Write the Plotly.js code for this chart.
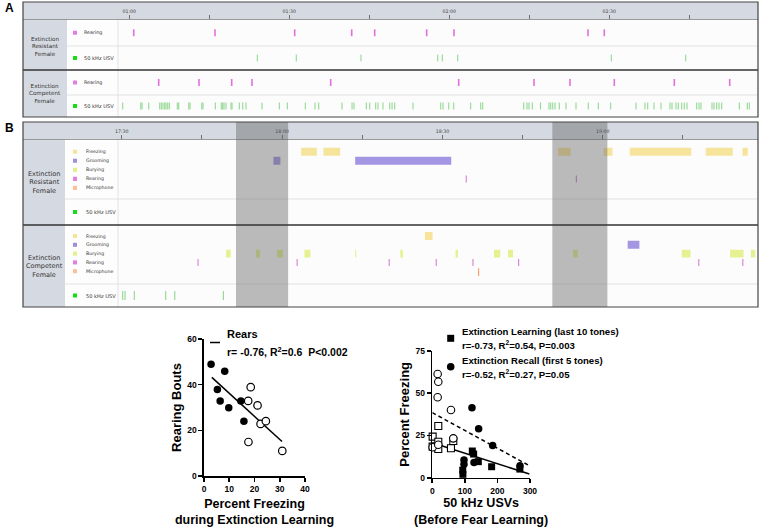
<!DOCTYPE html>
<html><head><meta charset="utf-8">
<script src="https://cdn.plot.ly/plotly-3.0.1.min.js"></script>
<style>html,body{margin:0;padding:0;background:#fff}#chart{width:760px;height:527px}</style>
</head><body><div id="chart"></div>
<script>
// ---------------- DATA ----------------
// Panel A (time in seconds)
const aTickVals = [60, 90, 120, 150];
const aTickText = ['01:00', '01:30', '02:00', '02:30'];
const aMinorVals = [75, 105, 135, 165];
const aResRearing = [60.83, 76.07, 91.01, 101.70, 106.01, 115.76, 120.88, 146.01, 149.06];
const aResUSV = [84.00, 91.31, 103.44, 117.83, 118.69, 121.58, 150.38, 164.33];
const aCompRearing = [65.51, 73.07, 79.20, 83.01, 97.76, 121.76, 135.88, 142.63, 150.94, 162.19, 172.58];
const aCompUSV = [58.76, 62.14, 62.38, 63.64, 65.70, 66.00, 66.32, 66.64, 66.88, 67.20, 67.50, 69.00, 69.26,
  71.14, 71.38, 73.58, 73.82, 76.13, 77.25, 77.51, 77.76, 78.13, 79.07, 79.26, 80.63, 81.26, 81.88, 84.88,
  88.13, 89.63, 93.00, 94.82, 95.51, 99.88, 101.76, 102.13, 104.44, 105.08, 106.20, 106.63, 107.57, 108.83,
  109.26, 109.76, 113.19, 118.39, 118.82, 119.89, 120.83, 124.01, 125.89, 126.26, 133.95, 134.57, 134.94,
  135.56, 137.10, 138.69, 139.01, 139.39, 139.82, 140.63, 141.88, 143.76, 146.06, 147.94, 150.26, 155.01,
  156.69, 157.20, 158.38, 159.69, 161.38, 161.76, 162.51, 162.94, 163.58, 164.06, 164.57, 166.39, 166.82,
  167.19, 169.26, 169.63, 170.14, 170.57, 171.08, 174.38, 175.88, 176.25];

// Panel B (time in seconds)
const bTickVals = [1050, 1080, 1110, 1140];
const bTickText = ['17:30', '18:00', '18:30', '19:00'];
const bMinorVals = [1065, 1095, 1125, 1155];
const lanes = ['Freezing', 'Grooming', 'Burying', 'Rearing', 'Microphone'];
const toneStart = [1071.37, 1130.56];
const toneEnd = [1081.12, 1140.86];
const bResFreezeStart = [1083.56, 1087.73, 1131.63, 1140.17, 1145.04, 1159.27, 1166.14];
const bResFreezeEnd = [1086.50, 1090.86, 1133.99, 1141.80, 1156.54, 1164.33, 1167.13];
const bResGroomStart = [1078.37, 1093.67];
const bResGroomEnd = [1079.68, 1111.65];
const bResRearing = [1114.46, 1135.06];
const bResUSV = [];
const bCompFreezeStart = [1106.72];
const bCompFreezeEnd = [1108.15];
const bCompGroomStart = [1144.66];
const bCompGroomEnd = [1146.85];
const bCompBuryStart = [1069.51, 1075.13, 1079.01, 1084.18, 1093.67, 1102.10, 1112.45, 1119.64, 1122.27, 1134.44, 1154.79, 1163.82, 1167.70];
const bCompBuryEnd = [1070.39, 1075.88, 1080.13, 1085.30, 1093.86, 1102.60, 1112.90, 1120.82, 1123.20, 1135.30, 1156.42, 1166.35, 1168.52];
const bCompRearing = [1064.27, 1082.81, 1100.04, 1108.84, 1115.71, 1124.25, 1157.96, 1166.20];
const bCompMic = [1116.76];
const bCompUSV = [1050.17, 1050.60, 1052.34, 1058.22, 1059.91, 1069.01];

// Bottom left scatter: percent freezing vs rearing bouts
const rearCompX = [2.8, 8.2, 5.3, 6.4, 9.8, 14.6, 15.8];
const rearCompY = [48.9, 45.9, 37.9, 32.9, 29.9, 32.9, 24.0];
const rearResX = [18.5, 17.5, 21.2, 22.4, 24.5, 17.6, 31.0];
const rearResY = [38.9, 32.9, 30.9, 22.8, 24.0, 14.9, 11.0];
const rearFitX = [3.1, 30.9];
const rearFitY = [43.2, 15.1];

// Bottom right scatter: USVs vs percent freezing
const learnResX = [18.4, 1, 18.4, 1, 18.4, 57.3, 64.5];
const learnResY = [30.6, 24.3, 21.3, 18.4, 17.0, 17.4, 21.7];
const recallResX = [16.4, 18.4, 16.4, 57.3, 64.5, 1, 18.4];
const recallResY = [61.4, 56.8, 47.6, 40.1, 23.3, 18.0, 19.5];
const learnCompX = [122.9, 127.0, 141.3, 182.2, 269.0, 93.5, 94.0];
const learnCompY = [15.8, 14.0, 9.5, 6.5, 5.1, 4.5, 2.0];
const recallCompX = [121.8, 142.3, 185.3, 269.3, 97.3, 97.3, 128.0];
const recallCompY = [41.4, 29.0, 19.1, 7.1, 10.5, 8.0, 9.0];
const learnFitX = [0, 298];
const learnFitY = [20.7, 2.2];
const recallFitX = [0, 298];
const recallFitY = [38.5, 7.1];

// ---------------- HELPERS ----------------
const W = 760, H = 527;
const px = v => v / W;
const py = v => 1 - v / H;
const TL = "DejaVu Sans, Verdana, sans-serif";
const AR = "Liberation Sans, Arial, sans-serif";

const C = {
  rear: '#e070e0', usv: '#93d993', freeze: '#f6e49c', groom: '#a596e4',
  bury: '#e6f192', mic: '#f4a26a', rearB: '#da88da', usvB: '#8fd68f',
  legRear: '#e47ee4', legUSV: '#16dd16', legFreeze: '#f7e394', legGroom: '#a18fdc',
  legBury: '#e5f08d', legMic: '#f9c09a', head: '#d5d9e1'
};

function ticks(xs, xa, ya, yval, color, size, width) {
  return {type: 'scatter', mode: 'markers', x: xs, y: xs.map(() => yval), xaxis: xa, yaxis: ya,
    marker: {symbol: 'line-ns-open', size: size, color: color, line: {width: width, color: color}},
    hoverinfo: 'skip', showlegend: false};
}
function bars(starts, ends, laneName, color, ya) {
  const li = lanes.indexOf(laneName);
  return {type: 'bar', orientation: 'h', base: starts, x: ends.map((e, i) => e - starts[i]),
    y: starts.map(() => li), width: 0.9, xaxis: 'x2', yaxis: ya,
    marker: {color: color, line: {width: 0}}, hoverinfo: 'skip', showlegend: false};
}

const traces = [
  // Panel A
  ticks(aResRearing, 'x', 'y', 0.5, C.rear, 5, 1.6),
  ticks(aResUSV, 'x', 'y2', 0.5, C.usv, 5, 1.1),
  ticks(aCompRearing, 'x', 'y3', 0.5, C.rear, 5, 1.6),
  ticks(aCompUSV, 'x', 'y4', 0.5, C.usv, 5, 1.1),
  // Panel B resistant
  bars(bResFreezeStart, bResFreezeEnd, 'Freezing', C.freeze, 'y5'),
  bars(bResGroomStart, bResGroomEnd, 'Grooming', C.groom, 'y5'),
  ticks(bResRearing, 'x2', 'y5', lanes.indexOf('Rearing'), C.rearB, 5, 1.2),
  ticks(bResUSV, 'x2', 'y6', 0.5, C.usvB, 6.5, 1.1),
  // Panel B competent
  bars(bCompFreezeStart, bCompFreezeEnd, 'Freezing', C.freeze, 'y7'),
  bars(bCompGroomStart, bCompGroomEnd, 'Grooming', C.groom, 'y7'),
  bars(bCompBuryStart, bCompBuryEnd, 'Burying', C.bury, 'y7'),
  ticks(bCompRearing, 'x2', 'y7', lanes.indexOf('Rearing'), C.rearB, 5, 1.2),
  ticks(bCompMic, 'x2', 'y7', lanes.indexOf('Microphone') + 0.1, C.mic, 5.6, 1.2),
  ticks(bCompUSV, 'x2', 'y8', 0.5, C.usvB, 6.5, 1.1),
  // Bottom left
  {type: 'scatter', mode: 'lines', x: rearFitX, y: rearFitY, xaxis: 'x3', yaxis: 'y9',
    line: {color: '#000', width: 1.5}, hoverinfo: 'skip', showlegend: false},
  {type: 'scatter', mode: 'markers', x: rearCompX, y: rearCompY, xaxis: 'x3', yaxis: 'y9', cliponaxis: false,
    marker: {symbol: 'circle', size: 7.5, color: '#000', line: {width: 0}}, showlegend: false},
  {type: 'scatter', mode: 'markers', x: rearResX, y: rearResY, xaxis: 'x3', yaxis: 'y9', cliponaxis: false,
    marker: {symbol: 'circle', size: 7.5, color: '#fff', line: {width: 1.2, color: '#000'}}, showlegend: false},
  // Bottom right
  {type: 'scatter', mode: 'lines', x: learnFitX, y: learnFitY, xaxis: 'x4', yaxis: 'y10',
    line: {color: '#000', width: 1.5}, hoverinfo: 'skip', showlegend: false},
  {type: 'scatter', mode: 'lines', x: recallFitX, y: recallFitY, xaxis: 'x4', yaxis: 'y10',
    line: {color: '#000', width: 1.5, dash: '4px,3px'}, hoverinfo: 'skip', showlegend: false},
  {type: 'scatter', mode: 'markers', x: learnResX, y: learnResY, xaxis: 'x4', yaxis: 'y10', cliponaxis: false,
    marker: {symbol: 'square', size: 7, color: '#fff', line: {width: 1.1, color: '#000'}}, showlegend: false},
  {type: 'scatter', mode: 'markers', x: recallResX, y: recallResY, xaxis: 'x4', yaxis: 'y10', cliponaxis: false,
    marker: {symbol: 'circle', size: 7.5, color: '#fff', line: {width: 1.1, color: '#000'}}, showlegend: false},
  {type: 'scatter', mode: 'markers', x: learnCompX, y: learnCompY, xaxis: 'x4', yaxis: 'y10', cliponaxis: false,
    marker: {symbol: 'square', size: 7, color: '#000', line: {width: 0}}, showlegend: false},
  {type: 'scatter', mode: 'markers', x: recallCompX, y: recallCompY, xaxis: 'x4', yaxis: 'y10', cliponaxis: false,
    marker: {symbol: 'circle', size: 7.5, color: '#000', line: {width: 0}}, showlegend: false}
];

// ---------------- LAYOUT ----------------
const shapes = [];
const annotations = [];
function rect(x0, y0, x1, y1, fill, lc, lw, layer) {
  shapes.push({type: 'rect', xref: 'paper', yref: 'paper', x0: px(x0), x1: px(x1), y0: py(y1), y1: py(y0),
    fillcolor: fill || 'rgba(0,0,0,0)', line: {color: lc || 'rgba(0,0,0,0)', width: lw || 0}, layer: layer || 'below'});
}
function hline(x0, x1, y, lc, lw, layer) {
  shapes.push({type: 'line', xref: 'paper', yref: 'paper', x0: px(x0), x1: px(x1), y0: py(y), y1: py(y),
    line: {color: lc, width: lw}, layer: layer || 'below'});
}
function vline(x, y0, y1, lc, lw, layer) {
  shapes.push({type: 'line', xref: 'paper', yref: 'paper', x0: px(x), x1: px(x), y0: py(y0), y1: py(y1),
    line: {color: lc, width: lw}, layer: layer || 'below'});
}
function txt(x, y, text, size, opts) {
  annotations.push(Object.assign({xref: 'paper', yref: 'paper', x: px(x), y: py(y), text: text, showarrow: false,
    font: {family: TL, size: size, color: '#333'}, xanchor: 'center', yanchor: 'middle'}, opts || {}));
}
function legendItem(yref, yv, half, text, color, xSq, xTxt, size) {
  shapes.push({type: 'rect', xref: 'paper', yref: yref, x0: px(xSq), x1: px(xSq + 4), y0: yv - half, y1: yv + half,
    fillcolor: color, line: {width: 0}, layer: 'below'});
  annotations.push({xref: 'paper', yref: yref, x: px(xTxt), y: yv, text: text, showarrow: false,
    xanchor: 'left', yanchor: 'middle', font: {family: TL, size: size, color: '#333'}});
}

// Panel A frame
rect(23, 2, 758, 117, '#fcfcfc');
rect(23, 2, 758, 19.5, C.head);
rect(23, 19.5, 67, 117, C.head);
rect(67, 19.5, 118, 117, '#fdfdfd');
hline(67, 758, 46, '#dcdcdc', 0.8);
hline(67, 758, 95, '#dcdcdc', 0.8);
vline(118, 19.5, 117, '#dcdcdc', 0.8);
hline(23, 758, 19.5, '#777', 0.7);
// Panel B frame
rect(23, 122, 758, 307, '#fcfcfc');
rect(23, 122, 758, 139.5, C.head);
rect(23, 139.5, 65, 307, C.head);
rect(65, 139.5, 118, 307, '#fdfdfd');
hline(65, 758, 199, '#dcdcdc', 0.8);
hline(65, 758, 284, '#dcdcdc', 0.8);
vline(118, 139.5, 307, '#dcdcdc', 0.8);
hline(23, 758, 139.5, '#777', 0.7);

// Legend items
legendItem('y', 0.5, 2 / 26, 'Rearing', C.legRear, 73, 82, 4.8);
legendItem('y2', 0.5, 2 / 24, '50 kHz USV', C.legUSV, 73, 82, 5.1);
legendItem('y3', 0.5, 2 / 25, 'Rearing', C.legRear, 73, 82, 4.8);
legendItem('y4', 0.5, 2 / 22, '50 kHz USV', C.legUSV, 73, 82, 5.1);
const legCols = [C.legFreeze, C.legGroom, C.legBury, C.legRear, C.legMic];
lanes.forEach((ln, i) => {
  legendItem('y5', i, 0.23, ln, legCols[i], 73, 83.5, 4.7);
  legendItem('y7', i, 0.23, ln, legCols[i], 73, 83.5, 4.7);
});
legendItem('y6', 0.5, 2 / 26, '50 kHz USV', C.legUSV, 73, 83.5, 5.1);
legendItem('y8', 0.5, 2 / 23, '50 kHz USV', C.legUSV, 73, 83.5, 5.1);

// Tone shading (above events)
toneStart.forEach((s, i) => {
  shapes.push({type: 'rect', xref: 'x2', yref: 'paper', x0: s, x1: toneEnd[i], y0: py(307), y1: py(122),
    fillcolor: 'rgba(95,95,95,0.42)', line: {width: 0}, layer: 'above'});
});
// Separators and borders above
hline(23, 758, 70, '#333', 1.3, 'above');
hline(23, 758, 225, '#333', 1.3, 'above');
rect(23, 2, 758, 117, null, '#444', 1.2, 'above');
rect(23, 122, 758, 307, null, '#444', 1.2, 'above');

// Row labels
txt(45, 46, 'Extinction<br>Resistant<br>Female', 5.6);
txt(45, 94, 'Extinction<br>Competent<br>Female', 5.6);
txt(44, 182, 'Extinction<br>Resistant<br>Female', 6.5);
txt(44, 266, 'Extinction<br>Competent<br>Female', 6.5);
// Panel letters
txt(9, 8, '<b>A</b>', 12, {font: {family: AR, size: 12, color: '#000'}});
txt(9, 128, '<b>B</b>', 12, {font: {family: AR, size: 12, color: '#000'}});

// Scatter legends
hline(210, 220, 342.5, '#000', 1.5, 'above');
txt(225, 334, '<b>Rears</b>', 11, {xanchor: 'left', font: {family: AR, size: 11, color: '#000'}});
txt(225, 351, '<b>r= -0.76, R<sup>2</sup>=0.6&nbsp;&nbsp;P&lt;0.002</b>', 10.5, {xanchor: 'left', font: {family: AR, size: 10.5, color: '#000'}});
rect(447.2, 334.8, 454.2, 341.8, '#000', null, 0, 'above');
shapes.push({type: 'circle', xref: 'paper', yref: 'paper', x0: px(446.9), x1: px(454.5), y0: py(370.5), y1: py(362.9),
  fillcolor: '#000', line: {width: 0}, layer: 'above'});
const rf = {xanchor: 'left', font: {family: AR, size: 9.6, color: '#000'}};
txt(460, 331.5, '<b>Extinction Learning (last 10 tones)</b>', 9.6, rf);
txt(460, 345, '<b>r=-0.73, R<sup>2</sup>=0.54, P=0.003</b>', 9.6, rf);
txt(460, 360.5, '<b>Extinction Recall (first 5 tones)</b>', 9.6, rf);
txt(460, 373.5, '<b>r=-0.52, R<sup>2</sup>=0.27, P=0.05</b>', 9.6, rf);

const hiddenY = (dom, range, anchor) => ({domain: dom, range: range, anchor: anchor, visible: false, fixedrange: true});
const timeX = (pos, range, vals, text, minorVals) => ({
  domain: [px(118), px(757.5)], range: range, anchor: 'free', position: pos, side: 'top',
  showgrid: false, zeroline: false, showline: false, ticks: 'outside', ticklen: 4, tickwidth: 0.8, tickcolor: '#555',
  tickmode: 'array', tickvals: vals, ticktext: text, tickfont: {family: TL, size: 4.7, color: '#444'},
  minor: {tickmode: 'array', tickvals: minorVals, ticks: 'outside', ticklen: 4, tickwidth: 0.8, tickcolor: '#555', showgrid: false},
  fixedrange: true
});
const sciAxis = (dom, range, dtick, anchor, title, tsize, standoff) => ({
  domain: dom, range: range, dtick: dtick, tick0: 0, anchor: anchor, showgrid: false, zeroline: false,
  showline: true, linecolor: '#000', linewidth: 1.6, ticks: 'outside', ticklen: 4, tickwidth: 1.6, tickcolor: '#000',
  tickfont: {family: AR, size: 8.5, color: '#000', weight: 'bold'},
  title: {text: title, font: {family: AR, size: tsize, color: '#000'}, standoff: standoff}, fixedrange: true
});

const layout = {
  width: W, height: H, margin: {l: 0, r: 0, t: 0, b: 0},
  paper_bgcolor: '#ffffff', plot_bgcolor: 'rgba(0,0,0,0)', showlegend: false, barmode: 'overlay',
  font: {family: AR},
  xaxis: timeX(py(19), [57.88, 177.79], aTickVals, aTickText, aMinorVals),
  xaxis2: timeX(py(139), [1049.29, 1168.95], bTickVals, bTickText, bMinorVals),
  yaxis: hiddenY([py(46), py(19.5)], [0, 1], 'x'),
  yaxis2: hiddenY([py(70), py(46)], [0, 1], 'x'),
  yaxis3: hiddenY([py(95), py(70)], [0, 1], 'x'),
  yaxis4: hiddenY([py(117), py(95)], [0, 1], 'x'),
  yaxis5: hiddenY([py(199), py(139.5)], [5.22, -1.35], 'x2'),
  yaxis6: hiddenY([py(225), py(199)], [0, 1], 'x2'),
  yaxis7: hiddenY([py(284), py(225)], [5.45, -1.25], 'x2'),
  yaxis8: hiddenY([py(307), py(284)], [0, 1], 'x2'),
  xaxis3: sciAxis([px(204), px(305)], [0, 40], 10, 'y9', '<b>Percent Freezing<br>during Extinction Learning</b>', 12.5, 6),
  yaxis9: sciAxis([py(476), py(339)], [0, 60], 20, 'x3', '<b>Rearing Bouts</b>', 13, 2),
  xaxis4: sciAxis([px(432.3), px(530)], [0, 300], 100, 'y10', '<b>50 kHz USVs<br>(Before Fear Learning)</b>', 12.5, 4),
  yaxis10: sciAxis([py(477.7), py(351)], [0, 75], 25, 'x4', '<b>Percent Freezing</b>', 13, 3),
  shapes: shapes, annotations: annotations
};

Plotly.newPlot('chart', traces, layout, {staticPlot: true, displayModeBar: false});
</script></body></html>
